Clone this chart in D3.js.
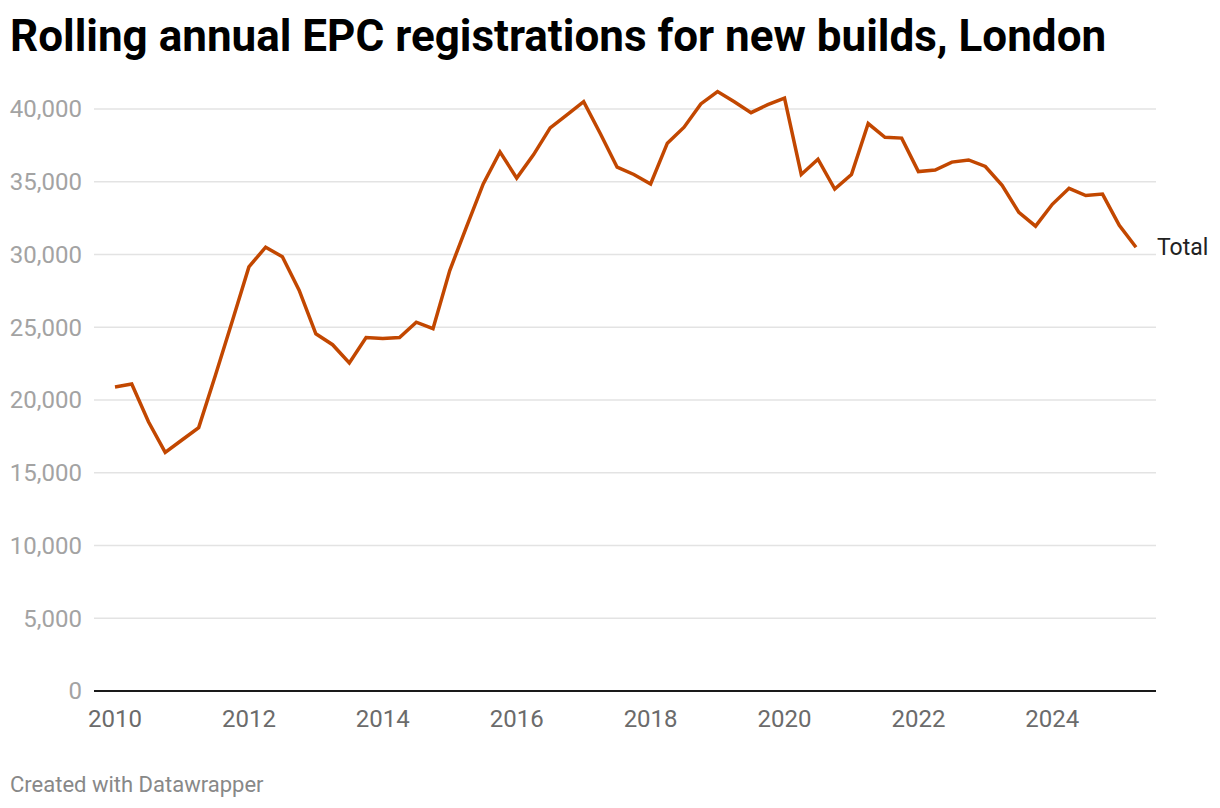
<!DOCTYPE html>
<html>
<head>
<meta charset="utf-8">
<script src="https://cdn.jsdelivr.net/npm/d3@7"></script>
<style>
  body { margin: 0; background: #fff; font-family: Roboto, "Noto Sans", sans-serif; }
</style>
</head>
<body>
<div id="chart"></div>
<script>
// quarterly rolling totals
var quarters = [
  "2010-01","2010-04","2010-07","2010-10","2011-01","2011-04","2011-07","2011-10",
  "2012-01","2012-04","2012-07","2012-10","2013-01","2013-04","2013-07","2013-10",
  "2014-01","2014-04","2014-07","2014-10","2015-01","2015-04","2015-07","2015-10",
  "2016-01","2016-04","2016-07","2016-10","2017-01","2017-04","2017-07","2017-10",
  "2018-01","2018-04","2018-07","2018-10","2019-01","2019-04","2019-07","2019-10",
  "2020-01","2020-04","2020-07","2020-10","2021-01","2021-04","2021-07","2021-10",
  "2022-01","2022-04","2022-07","2022-10","2023-01","2023-04","2023-07","2023-10",
  "2024-01","2024-04","2024-07","2024-10","2025-01","2025-04"
];
var totals = [
  20900, 21100, 18500, 16400, 17250, 18100, 21700, 25400,
  29150, 30500, 29850, 27550, 24550, 23800, 22550, 24300,
  24230, 24300, 25350, 24900, 28900, 31900, 34850, 37050,
  35250, 36850, 38700, 39600, 40500, 38300, 36000, 35500,
  34850, 37650, 38750, 40350, 41200, 40500, 39750, 40300,
  40750, 35500, 36550, 34500, 35500, 39000, 38050, 38000,
  35700, 35800, 36350, 36500, 36050, 34750, 32900, 31950,
  33450, 34550, 34050, 34150, 32000, 30500
];
var yTicks = [0, 5000, 10000, 15000, 20000, 25000, 30000, 35000, 40000];
var xTicks = [2010, 2012, 2014, 2016, 2018, 2020, 2022, 2024];
var seriesName = "Total";

var W = 1220, H = 808;
var plot = {left: 94, right: 1156, top: 109, bottom: 691};

var data = quarters.map(function(q, i) {
  var parts = q.split("-");
  return { t: +parts[0] + (+parts[1] - 1) / 12, v: totals[i] };
});

var svg = d3.select("#chart").append("svg")
  .attr("width", W)
  .attr("height", H);

svg.append("text")
  .attr("x", 10)
  .attr("y", 51)
  .style("font-size", "44px")
  .style("font-weight", "700")
  .style("fill", "#000")
  .text("Rolling annual EPC registrations for new builds, London");

var x = d3.scaleLinear()
  .domain([2010, 2025.25])
  .range([115, 1136]);

var y = d3.scaleLinear()
  .domain([0, 40000])
  .range([plot.bottom, plot.top]);

// gridlines + y labels
var grid = svg.append("g");
grid.selectAll("line")
  .data(yTicks.filter(function(d) { return d > 0; }))
  .enter().append("line")
  .attr("x1", plot.left).attr("x2", plot.right)
  .attr("y1", function(d) { return y(d); })
  .attr("y2", function(d) { return y(d); })
  .style("stroke", "#e3e3e3")
  .style("stroke-width", 1.5);

grid.selectAll("text")
  .data(yTicks)
  .enter().append("text")
  .attr("x", 82)
  .attr("y", function(d) { return y(d); })
  .attr("dy", "0.35em")
  .attr("text-anchor", "end")
  .style("font-size", "24px")
  .style("fill", "#a3a3a3")
  .text(function(d) { return d3.format(",")(d); });

// baseline
svg.append("line")
  .attr("x1", plot.left).attr("x2", plot.right)
  .attr("y1", y(0)).attr("y2", y(0))
  .style("stroke", "#1a1a1a")
  .style("stroke-width", 2);

// x labels
svg.append("g").selectAll("text")
  .data(xTicks)
  .enter().append("text")
  .attr("x", function(d) { return x(d); })
  .attr("y", 727)
  .attr("text-anchor", "middle")
  .style("font-size", "24px")
  .style("fill", "#6b6b6b")
  .text(function(d) { return d; });

var line = d3.line()
  .curve(d3.curveLinear)
  .x(function(d) { return x(d.t); })
  .y(function(d) { return y(d.v); });

svg.append("path")
  .datum(data)
  .attr("d", line)
  .style("fill", "none")
  .style("stroke", "#c24700")
  .style("stroke-width", 3.5)
  .style("stroke-linejoin", "miter");

var last = data[data.length - 1];
svg.append("text")
  .attr("x", x(last.t) + 21)
  .attr("y", y(last.v))
  .attr("dy", "0.35em")
  .style("font-size", "23px")
  .style("fill", "#222")
  .text(seriesName);

svg.append("text")
  .attr("x", 10)
  .attr("y", 792)
  .style("font-size", "22px")
  .style("fill", "#888")
  .text("Created with Datawrapper");
</script>
</body>
</html>
